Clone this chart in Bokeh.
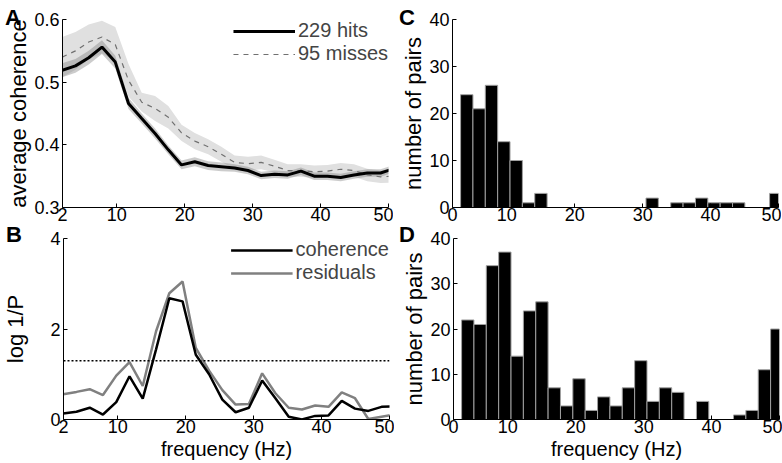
from bokeh.plotting import figure
from bokeh.layouts import row, column
from bokeh.models import Legend, LegendItem, FixedTicker, Range1d, Span, Div
from bokeh.embed import file_html
from bokeh.resources import INLINE

# ---------------- data ----------------
freqs = [1.95, 3.91, 5.86, 7.81, 9.77, 11.72, 13.67, 15.63, 17.58, 19.53, 21.48, 23.44, 25.39,
         27.34, 29.30, 31.25, 33.20, 35.16, 37.11, 39.06, 41.02, 42.97, 44.92, 46.88, 48.83, 50.78]

hits = [0.519, 0.526, 0.539, 0.556, 0.532, 0.466, 0.442, 0.418, 0.392, 0.368, 0.373, 0.367, 0.365,
        0.363, 0.359, 0.351, 0.353, 0.352, 0.358, 0.350, 0.350, 0.348, 0.352, 0.355, 0.355, 0.362]
hits_sem = [0.011, 0.011, 0.011, 0.011, 0.010, 0.009, 0.008, 0.008, 0.007, 0.007, 0.007, 0.007, 0.007,
            0.006, 0.006, 0.006, 0.006, 0.006, 0.006, 0.006, 0.006, 0.006, 0.006, 0.006, 0.006, 0.006]

misses = [0.540, 0.550, 0.564, 0.572, 0.560, 0.503, 0.468, 0.458, 0.444, 0.419, 0.406, 0.397, 0.385,
          0.372, 0.370, 0.372, 0.366, 0.359, 0.359, 0.357, 0.358, 0.361, 0.359, 0.352, 0.349, 0.350]
misses_sem = [0.032, 0.030, 0.028, 0.026, 0.028, 0.026, 0.015, 0.020, 0.018, 0.013, 0.013, 0.012, 0.012,
              0.011, 0.011, 0.011, 0.010, 0.010, 0.010, 0.010, 0.010, 0.010, 0.010, 0.010, 0.010, 0.010]

coherence_logp = [0.135, 0.17, 0.26, 0.11, 0.385, 0.955, 0.46, 1.55, 2.68, 2.61, 1.43, 1.0, 0.44,
                  0.16, 0.26, 0.86, 0.47, 0.06, 0.0, 0.08, 0.09, 0.41, 0.24, 0.19, 0.28, 0.29]
residuals_logp = [0.56, 0.61, 0.67, 0.54, 0.97, 1.27, 0.74, 1.95, 2.79, 3.05, 1.58, 1.08, 0.65,
                  0.33, 0.34, 1.02, 0.58, 0.26, 0.22, 0.31, 0.28, 0.60, 0.47, 0.01, 0.06, 0.11]
threshold = 1.3

bin_centers = [4.10, 5.92, 7.74, 9.56, 11.38, 13.20, 15.02, 16.84, 18.66, 20.48, 22.30, 24.12, 25.94,
               27.76, 29.58, 31.40, 33.22, 35.04, 36.86, 38.68, 40.50, 42.32, 44.14, 45.96, 47.78, 49.60]
counts_c = [24, 21, 26, 14, 10, 1, 3, 0, 0, 0, 0, 0, 0,
            0, 0, 2, 0, 1, 1, 2, 1, 1, 1, 0, 0, 3]
counts_d = [22, 21, 34, 37, 14, 24, 26, 7, 3, 9, 2, 5, 3,
            7, 13, 4, 7, 6, 0, 4, 0, 0, 1, 2, 11, 20]

x_ticks = [2, 10, 20, 30, 40, 50]
yticks_a = [0.3, 0.4, 0.5, 0.6]
yticks_b = [0, 2, 4]
yticks_hist = [0, 10, 20, 30, 40]
panel_letters = ["A", "B", "C", "D"]

BIN_WIDTH = 1.82
FONT = "Liberation Sans"


def make_fig(fw, fh, left, right, top, bottom, yr):
    p = figure(frame_width=fw, frame_height=fh, x_range=Range1d(2, 50), y_range=yr,
               output_backend="svg", toolbar_location=None,
               min_border_left=left, min_border_right=right,
               min_border_top=top, min_border_bottom=bottom)
    p.grid.visible = False
    p.outline_line_color = None
    p.background_fill_color = "white"
    p.border_fill_color = "white"
    return p


def style_axes(p, xlabel, ylabel, yticks, y_standoff, x_overrides=None):
    p.xaxis.ticker = FixedTicker(ticks=x_ticks)
    p.yaxis.ticker = FixedTicker(ticks=yticks)
    if x_overrides:
        p.xaxis.major_label_overrides = x_overrides
    for ax in (p.xaxis[0], p.yaxis[0]):
        ax.major_tick_in = 4
        ax.major_tick_out = 0
        ax.minor_tick_line_color = None
        ax.axis_line_color = "black"
        ax.axis_line_width = 1
        ax.major_tick_line_color = "black"
        ax.major_label_text_font = FONT
        ax.major_label_text_font_size = "18px"
        ax.major_label_text_color = "black"
        ax.axis_label_text_font = FONT
        ax.axis_label_text_font_style = "normal"
        ax.axis_label_text_color = "black"
    p.xaxis.axis_label_text_font_size = "20px"
    p.yaxis.axis_label_text_font_size = "22px"
    p.xaxis.major_label_standoff = 0
    p.yaxis.major_label_standoff = 3
    p.xaxis.axis_label = xlabel
    p.xaxis.axis_label_standoff = 2
    p.yaxis.axis_label = ylabel
    p.yaxis.axis_label_standoff = y_standoff


def legend(p, items):
    lg = Legend(items=items, location="top_right", margin=0, padding=0, spacing=0,
                glyph_width=62, glyph_height=16, label_standoff=3, label_height=16,
                label_text_font=FONT, label_text_font_size="20px",
                label_text_line_height=0.85,
                background_fill_alpha=0, border_line_color=None)
    p.add_layout(lg)


# ---------------- panel A ----------------
pA = make_fig(326, 188, 62, 5, 19, 22, Range1d(0.3, 0.6))
m_lo = [m - s for m, s in zip(misses, misses_sem)]
m_hi = [m + s for m, s in zip(misses, misses_sem)]
h_lo = [h - s for h, s in zip(hits, hits_sem)]
h_hi = [h + s for h, s in zip(hits, hits_sem)]
pA.varea(x=freqs, y1=m_lo, y2=m_hi, fill_color="#e0e0e0")
pA.varea(x=freqs, y1=h_lo, y2=h_hi, fill_color="#808080", fill_alpha=0.4)
r_miss = pA.line(freqs, misses, line_color="#707070", line_width=1.2, line_dash="5 5")
r_hit = pA.line(freqs, hits, line_color="black", line_width=3)
style_axes(pA, "", "average coherence", yticks_a, 0)
legend(pA, [LegendItem(label="229 hits", renderers=[r_hit]),
            LegendItem(label="95 misses", renderers=[r_miss])])

# ---------------- panel B ----------------
pB = make_fig(326, 181, 62, 5, 9, 44, Range1d(0, 4))
pB.add_layout(Span(location=threshold, dimension="width", line_color="black",
                   line_width=1.5, line_dash="2 2"))
r_res = pB.line(freqs, residuals_logp, line_color="#808080", line_width=2.5)
r_coh = pB.line(freqs, coherence_logp, line_color="black", line_width=2.5)
style_axes(pB, "frequency (Hz)", "log 1/P", yticks_b, 19)
legend(pB, [LegendItem(label="coherence", renderers=[r_coh]),
            LegendItem(label="residuals", renderers=[r_res])])

# ---------------- panel C ----------------
pC = make_fig(326, 188, 59, 3, 19, 22, Range1d(0, 40))
pC.vbar(x=bin_centers, top=counts_c, width=BIN_WIDTH, bottom=0,
        fill_color="black", line_color="#a0a0a0", line_width=1)
style_axes(pC, "", "number of pairs", yticks_hist, 0, {2: "0"})

# ---------------- panel D ----------------
pD = make_fig(326, 181, 59, 3, 9, 44, Range1d(0, 40))
pD.vbar(x=bin_centers, top=counts_d, width=BIN_WIDTH, bottom=0,
        fill_color="black", line_color="#a0a0a0", line_width=1)
style_axes(pD, "frequency (Hz)", "number of pairs", yticks_hist, 0, {2: "0"})

grid = column(row(pA, pC), row(pB, pD))
total_h = 463

# panel letters as an overlay (positions in page pixels)
letter_pos = [(0, 2), (1, 219), (394, 2), (394, 219)]
spans = "".join(
    f'<div style="position:absolute;left:{x}px;top:{y - total_h}px;'
    f"font-family:'{FONT}';font-weight:bold;font-size:22px;line-height:22px;"
    f'color:black;z-index:20;">{t}</div>'
    for t, (x, y) in zip(panel_letters, letter_pos)
)
letters = Div(text=spans, width=780, height=0,
              styles={"position": "relative", "overflow": "visible", "z-index": "20"})

layout = column(grid, letters)

open("out.html", "w").write(file_html(layout, INLINE))
